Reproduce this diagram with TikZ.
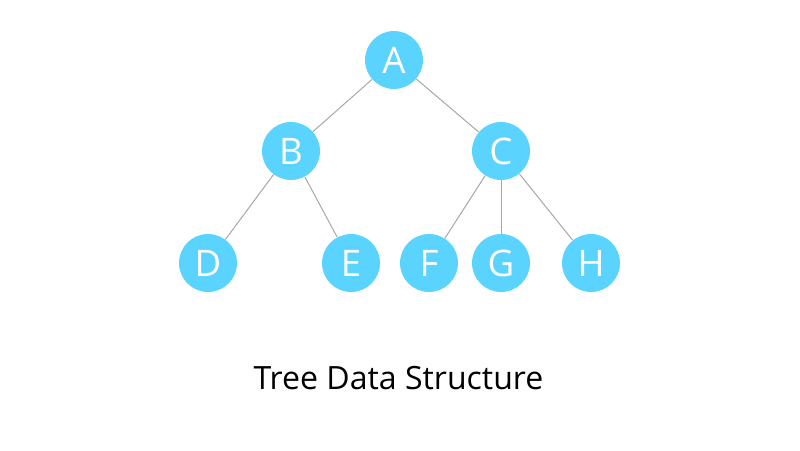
\documentclass[tikz,border=0pt]{standalone}
\usepackage{fontspec}
\setmainfont{Open Sans}
\usepackage{tikz}
\usetikzlibrary{positioning}
\definecolor{treecyan}{HTML}{5AD4FF}
\definecolor{edgegray}{HTML}{A6A6A6}

\begin{document}
\begin{tikzpicture}[font=\fontsize{26}{30}\selectfont,
    treenode/.style={circle, fill=treecyan, text=white, minimum size=1.45cm,
                     inner sep=0pt},
    edge/.style={draw=edgegray, line width=0.7pt}]
  \useasboundingbox (0,0) rectangle (20,-11.25);
  \node[treenode] (a) at (9.85,-1.5) {A};
  \node[treenode] (b) at (7.275,-3.775) {B};
  \node[treenode] (c) at (12.525,-3.775) {C};
  \node[treenode] (d) at (5.2,-6.575) {D};
  \node[treenode] (e) at (8.775,-6.575) {E};
  \node[treenode] (f) at (10.725,-6.575) {F};
  \node[treenode] (g) at (12.525,-6.575) {G};
  \node[treenode] (h) at (14.775,-6.575) {H};
  \draw[edge] (a) -- (b);
  \draw[edge] (a) -- (c);
  \draw[edge] (b) -- (d);
  \draw[edge] (b) -- (e);
  \draw[edge] (c) -- (f);
  \draw[edge] (c) -- (g);
  \draw[edge] (c) -- (h);
  \node[font=\fontsize{22.8}{27}\selectfont] (title) at (9.963,-9.45) {Tree Data Structure};
\end{tikzpicture}
\end{document}
